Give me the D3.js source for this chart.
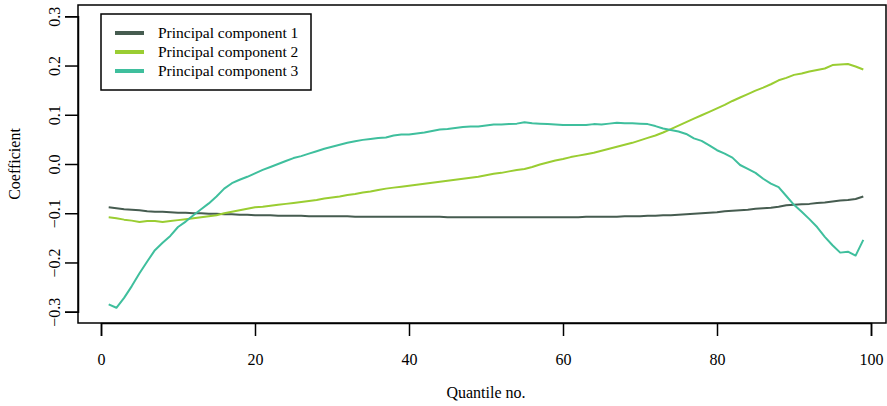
<!DOCTYPE html>
<html>
<head>
<meta charset="utf-8">
<script src="https://cdn.jsdelivr.net/npm/d3@7"></script>
<style>
  body { margin: 0; background: #fff; }
  text { font-family: "Liberation Serif", "Times New Roman", serif; fill: #000; }
</style>
</head>
<body>
<div id="chart"></div>
<script>
"use strict";

var quantiles = d3.range(1, 100);

var pc1 = [
  -0.088, -0.090, -0.092, -0.093, -0.094, -0.096, -0.097, -0.097, -0.098, -0.099,
  -0.099, -0.100, -0.100, -0.101, -0.101, -0.102, -0.102, -0.103, -0.103, -0.104,
  -0.104, -0.104, -0.105, -0.105, -0.105, -0.105, -0.106, -0.106, -0.106, -0.106,
  -0.106, -0.106, -0.107, -0.107, -0.107, -0.107, -0.107, -0.107, -0.107, -0.107,
  -0.107, -0.107, -0.107, -0.107, -0.108, -0.108, -0.108, -0.108, -0.108, -0.108,
  -0.108, -0.108, -0.108, -0.108, -0.108, -0.108, -0.108, -0.108, -0.108, -0.108,
  -0.108, -0.108, -0.107, -0.107, -0.107, -0.107, -0.107, -0.106, -0.106, -0.106,
  -0.105, -0.105, -0.104, -0.104, -0.103, -0.102, -0.101, -0.100, -0.099, -0.098,
  -0.096, -0.095, -0.094, -0.093, -0.091, -0.090, -0.089, -0.087, -0.084, -0.083,
  -0.082, -0.081, -0.079, -0.078, -0.076, -0.074, -0.073, -0.071, -0.066
];

var pc2 = [
  -0.108, -0.110, -0.113, -0.115, -0.118, -0.116, -0.116, -0.118, -0.116, -0.114,
  -0.112, -0.110, -0.108, -0.106, -0.104, -0.100, -0.097, -0.094, -0.091, -0.088,
  -0.087, -0.085, -0.083, -0.081, -0.079, -0.077, -0.075, -0.073, -0.070, -0.068,
  -0.066, -0.063, -0.061, -0.058, -0.056, -0.053, -0.050, -0.048, -0.046, -0.044,
  -0.042, -0.040, -0.038, -0.036, -0.034, -0.032, -0.030, -0.028, -0.026, -0.023,
  -0.020, -0.018, -0.015, -0.012, -0.010, -0.006, -0.001, 0.003, 0.007, 0.010,
  0.014, 0.017, 0.020, 0.023, 0.027, 0.031, 0.035, 0.039, 0.043, 0.048,
  0.053, 0.058, 0.064, 0.071, 0.078, 0.085, 0.092, 0.099, 0.106, 0.113,
  0.120, 0.128, 0.135, 0.142, 0.149, 0.155, 0.162, 0.170, 0.175, 0.181,
  0.184, 0.188, 0.191, 0.194, 0.201, 0.202, 0.203, 0.198, 0.192
];

var pc3 = [
  -0.285, -0.292, -0.272, -0.248, -0.222, -0.198, -0.175, -0.160, -0.146, -0.128,
  -0.117, -0.104, -0.092, -0.080, -0.066, -0.050, -0.039, -0.032, -0.026, -0.019,
  -0.012, -0.006, 0.000, 0.006, 0.012, 0.016, 0.021, 0.026, 0.031, 0.035,
  0.039, 0.043, 0.046, 0.049, 0.051, 0.053, 0.054, 0.058, 0.060, 0.060,
  0.062, 0.064, 0.067, 0.070, 0.071, 0.073, 0.075, 0.076, 0.076, 0.078,
  0.080, 0.080, 0.081, 0.082, 0.085, 0.083, 0.082, 0.081, 0.080, 0.079,
  0.079, 0.079, 0.079, 0.081, 0.080, 0.082, 0.084, 0.083, 0.083, 0.082,
  0.081, 0.077, 0.072, 0.069, 0.066, 0.061, 0.052, 0.047, 0.038, 0.028,
  0.021, 0.013, -0.002, -0.010, -0.018, -0.030, -0.040, -0.047, -0.065, -0.083,
  -0.097, -0.112, -0.128, -0.148, -0.165, -0.180, -0.178, -0.186, -0.154
];

var seriesNames = ["Principal component 1", "Principal component 2", "Principal component 3"];
var seriesColors = ["#465c50", "#9acd32", "#3fbf9d"];
var xTicks = [0, 20, 40, 60, 80, 100];
var yTicks = [-0.3, -0.2, -0.1, 0.0, 0.1, 0.2, 0.3];

(function draw() {
  var W = 887, H = 406;
  var box = { left: 78, right: 886, top: 5, bottom: 323 };

  var svg = d3.select("#chart").append("svg")
    .attr("width", W).attr("height", H);

  var x = d3.scaleLinear().domain([0, 100]).range([101, 871]);
  var y = d3.scaleLinear().domain([-0.3, 0.3]).range([311.7, 16.3]);

  // lines
  var line = d3.line()
    .x(function (d) { return x(d[0]); })
    .y(function (d) { return y(d[1]); });

  [pc1, pc2, pc3].forEach(function (vals, i) {
    svg.append("path")
      .datum(quantiles.map(function (q, j) { return [q, vals[j]]; }))
      .attr("d", line)
      .attr("fill", "none")
      .attr("stroke", seriesColors[i])
      .attr("stroke-width", 2)
      .attr("stroke-linejoin", "round");
  });

  // box
  svg.append("rect")
    .attr("x", box.left).attr("y", box.top)
    .attr("width", box.right - box.left).attr("height", box.bottom - box.top)
    .attr("fill", "none").attr("stroke", "#000").attr("stroke-width", 1.5);

  // x axis
  var xAxis = d3.axisBottom(x).tickValues(xTicks).tickSize(13).tickPadding(18)
    .tickFormat(d3.format("d"));
  var gx = svg.append("g").attr("transform", "translate(0," + box.bottom + ")").call(xAxis);
  gx.select(".domain").attr("stroke-width", 1.5);
  gx.selectAll(".tick line").attr("stroke-width", 1.5);
  gx.selectAll("text").style("font-family", "Liberation Serif").attr("font-size", 16);

  // y axis
  var yAxis = d3.axisLeft(y).tickValues(yTicks).tickSize(13).tickPadding(0)
    .tickFormat(function (d) { return d3.format(".1f")(d).replace("-", "\u2212"); });
  var gy = svg.append("g").attr("transform", "translate(" + box.left + ",0)").call(yAxis);
  gy.select(".domain").attr("stroke-width", 1.5);
  gy.selectAll(".tick line").attr("stroke-width", 1.5);
  gy.selectAll("text")
    .style("font-family", "Liberation Serif")
    .attr("font-size", 16)
    .attr("x", null).attr("dy", null)
    .attr("text-anchor", "middle")
    .attr("transform", "translate(-24,0) rotate(-90)")
    .attr("dy", "0.35em");

  // axis titles
  svg.append("text")
    .attr("x", x(50)).attr("y", 398)
    .attr("text-anchor", "middle").attr("font-size", 16)
    .text("Quantile no.");
  svg.append("text")
    .attr("transform", "translate(20," + ((box.top + box.bottom) / 2) + ") rotate(-90)")
    .attr("text-anchor", "middle").attr("font-size", 16)
    .text("Coefficient");

  // legend
  var leg = svg.append("g");
  leg.append("rect")
    .attr("x", 101).attr("y", 14).attr("width", 210).attr("height", 76)
    .attr("fill", "#fff").attr("stroke", "#000").attr("stroke-width", 1.5);
  seriesNames.forEach(function (name, i) {
    var ly = 33 + i * 19;
    leg.append("line")
      .attr("x1", 115).attr("x2", 144).attr("y1", ly).attr("y2", ly)
      .attr("stroke", seriesColors[i]).attr("stroke-width", 4);
    leg.append("text")
      .attr("x", 158).attr("y", ly).attr("dy", "0.35em")
      .attr("font-size", 15.5)
      .text(name);
  });
})();
</script>
</body>
</html>
